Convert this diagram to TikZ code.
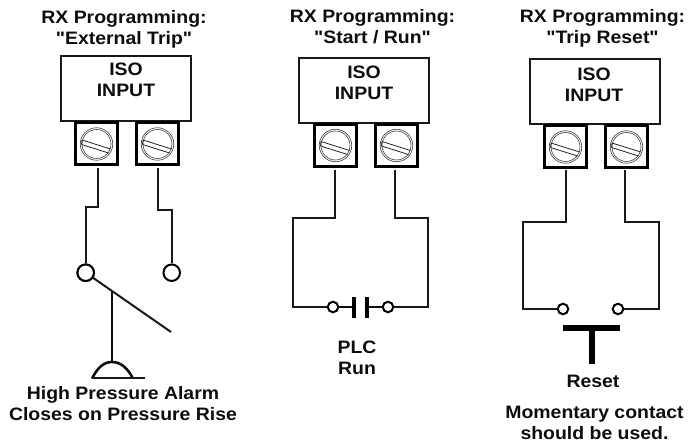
\documentclass[tikz,border=0pt]{standalone}
\usepackage{fontspec}
\newfontfamily\labfont[FakeStretch=1.08]{Liberation Sans Bold}
\usetikzlibrary{calc}
\newcommand{\screwterm}[2]{%
  \node[termbox] (#1) at (#2) {};
  \node[screwout] (#1o) at (#2) {};
  \node[screwin] (#1i) at (#2) {};
  \draw[screwline] ($(#2)+(-14.5,-4)$) -- ($(#2)+(14,5)$);
  \draw[screwline] ($(#2)+(-15,0.5)$) -- ($(#2)+(12,9)$);
  \draw[screwline] ($(#2)+(-14.5,-4)$) -- ($(#2)+(-15,0.5)$);
}
\tikzset{x=1pt,y=-1pt,
  lab/.style={font=\labfont\fontsize{18pt}{21pt}\selectfont,align=center,inner sep=0pt,text=black!95},
  isobox/.style={draw=black!90,line width=1.8pt,minimum width=130pt,minimum height=64.5pt,inner sep=0pt},
  termbox/.style={draw=black,line width=3pt,fill=white,minimum width=42pt,minimum height=42pt,inner sep=0pt},
  screwout/.style={circle,draw=black!75,line width=.6pt,minimum size=32.5pt,inner sep=0pt},
  screwin/.style={circle,draw=black!75,line width=.6pt,minimum size=29pt,inner sep=0pt},
  screwline/.style={draw=black!85,line width=.8pt},
  wire/.style={draw=black!90,line width=2pt},
  thickwire/.style={draw=black!95,line width=2.6pt},
  plate/.style={draw=black,line width=3.3pt},
  tbar/.style={draw=black,line width=6pt},
  term/.style={circle,draw=black,line width=2pt,fill=white,inner sep=0pt},
  bigterm/.style={term,minimum size=16.5pt},
  smallterm/.style={term,minimum size=10.5pt},
}
\begin{document}
\begin{tikzpicture}
\useasboundingbox (0,0) rectangle (688,443);
% column 1
\node[lab] (t1) at (124,29.5) {RX Programming:\\"External Trip"};
\node[isobox] (b1) at (126,88.5) {};
\node[lab] (i1) at (126,80) {ISO\\INPUT};
\screwterm{a1}{96.5,144}
\screwterm{a2}{157.5,144}
\coordinate (a1w) at (97.5,168);
\coordinate (a2w) at (158,168);
\node[bigterm] (c1) at (85.7,272.7) {};
\node[bigterm] (c2) at (171.7,272.7) {};
\draw[wire] (a1w) |- (85.7,207) -- (c1);
\draw[wire] (a2w) |- (171.7,210) -- (c2);
\coordinate (levend) at (171,332);
\coordinate (stemtop) at (112,291);
\coordinate (stembot) at (112,362);
\draw[wire] (c1) -- (levend);
\node[bigterm] at (c1) {};
\draw[thickwire] (stemtop) -- (stembot);
\coordinate (domel) at (92,378.5);
\coordinate (domer) at (133,378.5);
\coordinate (baser) at (144.5,378.5);
\draw[thickwire] (domel) .. controls (98,367) and (104,362) .. (stembot) .. controls (120,362) and (127,367) .. (domer);
\draw[wire] (domel) -- (baser);
\node[lab] (h1) at (123,403.5) {High Pressure Alarm\\Closes on Pressure Rise};
% column 2
\node[lab] (t2) at (372.5,26.5) {RX Programming:\\"Start / Run"};
\node[isobox] (b2) at (364,90.5) {};
\node[lab] (i2) at (364,83) {ISO\\INPUT};
\screwterm{b3}{335.5,145.5}
\screwterm{b4}{396.5,145.5}
\coordinate (b3w) at (335,170);
\coordinate (b4w) at (395,170);
\node[smallterm] (c3) at (333,307) {};
\node[smallterm] (c4) at (388,307) {};
\coordinate (p1t) at (354,297);
\coordinate (p1b) at (354,318);
\coordinate (p2t) at (367,297);
\coordinate (p2b) at (367,318);
\draw[wire] (b3w) |- (293,218) |- (c3);
\draw[wire] (b4w) |- (428,218) |- (c4);
\coordinate (p1m) at (354,307);
\coordinate (p2m) at (367,307);
\draw[thickwire] (c3) -- (p1m);
\draw[thickwire] (c4) -- (p2m);
\draw[plate] (p1t) -- (p1b);
\draw[plate] (p2t) -- (p2b);
\node[lab] (p) at (357,357.5) {PLC\\Run};
% column 3
\node[lab] (t3) at (602.5,28) {RX Programming:\\"Trip Reset"};
\node[isobox] (b5) at (595,91.5) {};
\node[lab] (i3) at (594,84.5) {ISO\\INPUT};
\screwterm{d1}{565.5,147}
\screwterm{d2}{626.5,147}
\coordinate (d1w) at (565.7,170);
\coordinate (d2w) at (625,170);
\node[smallterm] (c5) at (563,309) {};
\node[smallterm] (c6) at (618,309) {};
\draw[wire] (d1w) |- (523,222) |- (c5);
\draw[wire] (d2w) |- (658.5,222) |- (c6);
\coordinate (tl) at (563,328);
\coordinate (tr) at (620,328);
\coordinate (tm) at (592,328);
\coordinate (tb) at (592,364);
\draw[tbar] (tl) -- (tr);
\draw[tbar] (tm) -- (tb);
\node[lab] (r) at (593,381.5) {Reset};
\node[lab] (m) at (594.5,423) {Momentary contact\\should be used.};
\end{tikzpicture}
\end{document}
